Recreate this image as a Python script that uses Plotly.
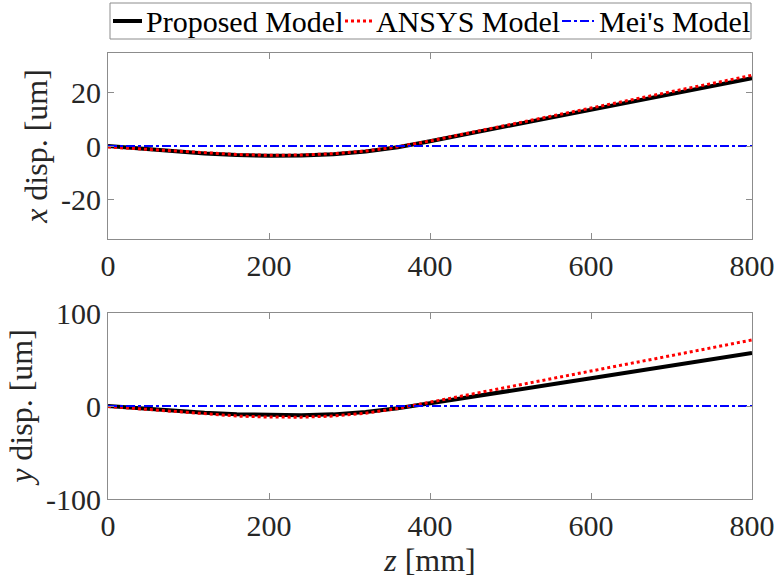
import plotly.graph_objects as go

# Axial position along the shaft [mm]
z_mm = [0, 40, 80, 120, 160, 200, 240, 280, 320, 360, 400,
        440, 480, 520, 560, 600, 640, 680, 720, 760, 800]

# x displacement [um]
x_proposed = [0.0, -1.0, -2.0, -2.8, -3.4, -3.7, -3.6, -3.1, -2.1, -0.5, 1.8,
              4.2, 6.5, 8.9, 11.3, 13.7, 16.0, 18.4, 20.8, 23.1, 25.5]
x_ansys = [-0.4, -1.1, -1.9, -2.6, -3.2, -3.5, -3.4, -2.9, -1.9, -0.3, 1.9,
           4.4, 6.9, 9.3, 11.8, 14.3, 16.8, 19.2, 21.7, 24.1, 26.6]
x_mei = [0.0] * len(z_mm)

# y displacement [um]
y_proposed = [0.0, -2.5, -5.0, -7.2, -8.8, -9.8, -10.0, -9.0, -6.5, -2.5, 2.7,
              8.1, 13.6, 19.0, 24.4, 29.9, 35.3, 40.7, 46.1, 51.6, 57.0]
y_ansys = [-0.5, -3.0, -6.0, -8.8, -10.8, -11.9, -12.0, -10.8, -7.8, -2.6, 4.2,
           10.9, 17.5, 24.2, 30.9, 37.6, 44.3, 50.9, 57.6, 64.3, 71.0]
y_mei = [0.0] * len(z_mm)

x_ticks = [0, 200, 400, 600, 800]
top_ticks = [-20, 0, 20]
top_labels = ["-20", "0", "20"]
bot_ticks = [-100, 0, 100]
bot_labels = ["-100", "0", "100"]

W, H = 776, 582
FONT = "Liberation Serif, Times New Roman, serif"
TXT = "#262626"
AX = "#8c8c8c"

names = ["Proposed Model", "ANSYS Model", "Mei's Model"]
lines = [
    dict(color="black", width=4, dash="solid"),
    dict(color="#ff0000", width=3, dash="dot"),
    dict(color="#0000ff", width=1.8, dash="9px,3px,3px,3px"),
]

fig = go.Figure()
for name, line, ys in zip(names, lines, [x_proposed, x_ansys, x_mei]):
    fig.add_trace(go.Scatter(x=z_mm, y=ys, mode="lines", name=name, line=line,
                             xaxis="x", yaxis="y"))
for name, line, ys in zip(names, lines, [y_proposed, y_ansys, y_mei]):
    fig.add_trace(go.Scatter(x=z_mm, y=ys, mode="lines", name=name, line=line,
                             xaxis="x2", yaxis="y2"))


def px(x):
    return x / W


def py(y):
    return 1 - y / H


xdom = [px(108), px(752)]
top_dom = [py(239), py(53)]
bot_dom = [py(499), py(313)]

common_axis = dict(
    showline=True, linecolor=AX, linewidth=1, mirror="ticks",
    ticks="inside", ticklen=6, tickcolor=AX, tickwidth=1,
    showgrid=False, zeroline=False, automargin=False,
    tickfont=dict(family=FONT, size=30, color=TXT),
)
title_font = dict(family=FONT, size=32, color=TXT)

# Framed legend row across the top: sample line followed by its label
shapes = [dict(type="rect", xref="paper", yref="paper",
               x0=px(110), x1=px(751), y0=py(39), y1=py(3),
               line=dict(color=AX, width=1), fillcolor="white", layer="above")]
annotations = []
legend_slots = [(113, 142, 144), (345, 372, 374), (562, 594, 597)]
for (s0, s1, tx), name, line in zip(legend_slots, names, lines):
    shapes.append(dict(type="line", xref="paper", yref="paper",
                       x0=px(s0), x1=px(s1), y0=py(21), y1=py(21),
                       line=line, layer="above"))
    annotations.append(dict(text=name, xref="paper", yref="paper",
                            x=px(tx), y=py(22), xanchor="left", yanchor="middle",
                            showarrow=False,
                            font=dict(family=FONT, size=30, color="black")))

fig.update_layout(
    width=W, height=H,
    margin=dict(l=0, r=0, t=0, b=0),
    paper_bgcolor="white", plot_bgcolor="white",
    font=dict(family=FONT, color=TXT),
    showlegend=False,
    xaxis=dict(domain=xdom, range=[0, 800], tickvals=x_ticks, anchor="y",
               **common_axis),
    yaxis=dict(domain=top_dom, range=[-35, 35], tickvals=top_ticks,
               ticktext=top_labels, anchor="x",
               title=dict(text="<i>x</i> disp. [um]", standoff=3, font=title_font),
               **common_axis),
    xaxis2=dict(domain=xdom, range=[0, 800], tickvals=x_ticks, anchor="y2",
                title=dict(text="<i>z</i> [mm]", standoff=0, font=title_font),
                **common_axis),
    yaxis2=dict(domain=bot_dom, range=[-100, 100], tickvals=bot_ticks,
                ticktext=bot_labels, anchor="x2",
                title=dict(text="<i>y</i> disp. [um]", standoff=3, font=title_font),
                **common_axis),
    shapes=shapes,
    annotations=annotations,
)

fig.write_html("out.html")
